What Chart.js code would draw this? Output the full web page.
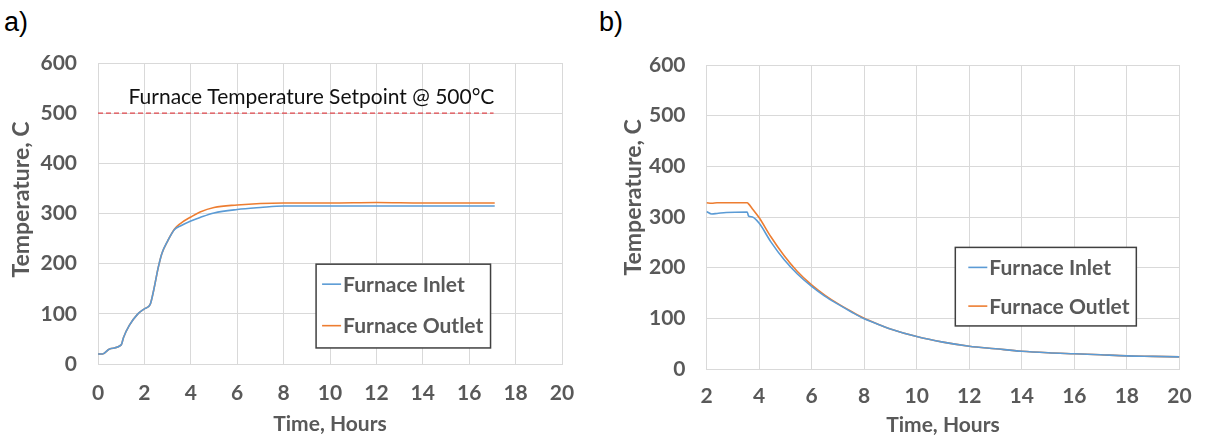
<!DOCTYPE html>
<html>
<head>
<meta charset="utf-8">
<script src="https://cdn.jsdelivr.net/npm/chart.js@4.4.1/dist/chart.umd.min.js"></script>
<style>
  body { margin: 0; background: #fff; }
  #wrap { position: relative; width: 1206px; height: 438px; }
  canvas { position: absolute; top: 0; }
  .tag { position: absolute; top: 9px; font: 27px "Liberation Sans", Arial, sans-serif; color: #000; line-height: 27px; }
</style>
</head>
<body>
<div id="wrap">
  <div class="tag" style="left:4px">a)</div>
  <div class="tag" style="left:599px">b)</div>
  <canvas id="chartA" width="600" height="438" style="left:0"></canvas>
  <canvas id="chartB" width="606" height="438" style="left:600px"></canvas>
</div>
<script>
  // ---- data ----
  // a) heat-up
  const heatTime   = [0, 0.2, 0.5, 1.0, 1.1, 1.35, 1.7, 2.0, 2.25, 2.4, 2.6, 2.75, 3.0, 3.3, 3.55, 4.0, 4.4, 5.0, 6.0, 7.0, 8.0, 10, 12, 14, 16, 17.1];
  const heatInlet  = [20, 20, 30, 38, 53, 77, 99, 110, 119, 147, 193, 220, 245, 268, 275, 285, 292, 301, 308, 312, 315, 315, 315, 315, 315, 315];
  const heatOutlet = [20, 20, 30, 38, 53, 77, 99, 110, 119, 147, 193, 220, 245, 269, 280, 293, 303, 312, 317, 320, 321, 321, 322, 321, 321, 321];
  const setpointTime  = [0, 17.05];
  const setpointValue = [500, 500];

  // b) cool-down
  const coolTime   = [2.0, 2.2, 2.4, 2.75, 3.55, 3.6, 3.75, 4.0, 4.45, 4.95, 5.45, 6.0, 6.5, 7.0, 7.5, 8.0, 8.5, 9, 10, 11, 12, 13, 14, 15, 16, 17, 18, 19, 20];
  const coolInlet  = [311, 306, 307, 309, 310, 302, 300, 288, 251, 216, 188, 163, 144, 128, 113, 99, 89, 79, 64, 53, 45, 40, 35, 32, 30, 28, 26, 25, 24];
  const coolOutlet = [328, 327, 328, 328, 328, 326, 316, 299, 261, 224, 193, 166, 146, 129, 114, 100, 89, 79, 64, 53, 45, 40, 35, 32, 30, 28, 26, 25, 24];

  const seriesNames = ['Furnace Inlet', 'Furnace Outlet'];
  const setpointLabel = 'Furnace Temperature Setpoint @ 500\u00B0C';

  const GRAY = '#595959';
  const GRID = '#d9d9d9';
  const FONT = 'Lato, "Open Sans", sans-serif';
  const BLUE = '#5b9bd5';
  const ORANGE = '#ed7d31';

  const toPoints = (xs, ys) => xs.map((x, i) => ({ x, y: ys[i] }));

  function lineSet(label, xs, ys, color) {
    return {
      label,
      data: toPoints(xs, ys),
      borderColor: color,
      borderWidth: 1.6,
      pointRadius: 0,
      cubicInterpolationMode: 'monotone',
      fill: false
    };
  }

  // boxed legend drawn inside the plot, like the excel one
  const boxLegend = {
    id: 'boxLegend',
    afterDatasetsDraw(chart, args, opts) {
      const { ctx, scales: { x, y } } = chart;
      const left = x.getPixelForValue(opts.x0), right = x.getPixelForValue(opts.x1);
      const top = y.getPixelForValue(opts.y0), bottom = y.getPixelForValue(opts.y1);
      ctx.save();
      ctx.fillStyle = '#fff';
      ctx.fillRect(left, top, right - left, bottom - top);
      ctx.strokeStyle = '#404040';
      ctx.lineWidth = 1.5;
      ctx.strokeRect(left, top, right - left, bottom - top);
      ctx.font = 'bold 21px ' + FONT;
      ctx.textBaseline = 'middle';
      ctx.fillStyle = GRAY;
      let row = top + opts.firstRow;
      chart.data.datasets.forEach(ds => {
        if (ds.noLegend) return;
        const lx = left + opts.padLeft;
        ctx.strokeStyle = ds.borderColor;
        ctx.lineWidth = 1.6;
        ctx.beginPath();
        ctx.moveTo(lx, row);
        ctx.lineTo(lx + 19, row);
        ctx.stroke();
        ctx.fillText(ds.label, lx + 21, row + 1);
        row += opts.rowGap;
      });
      ctx.restore();
    }
  };

  // label above the setpoint line
  const setpointText = {
    id: 'setpointText',
    afterDatasetsDraw(chart, args, opts) {
      if (!opts.text) return;
      const { ctx, scales: { x, y } } = chart;
      ctx.save();
      ctx.font = '21px ' + FONT;
      ctx.fillStyle = '#111';
      ctx.textAlign = 'center';
      ctx.textBaseline = 'middle';
      ctx.fillText(opts.text, x.getPixelForValue(opts.x), y.getPixelForValue(opts.y));
      ctx.restore();
    }
  };

  function makeOptions(xMin, pad, yWidth, xHeight, tickPad, titlePad, yTitle, legendBox, note) {
    const tickFont = { family: FONT, size: 21, weight: 'bold' };
    const yTitleFont = { family: FONT, size: 23, weight: 'bold' };
    return {
      responsive: false,
      animation: false,
      layout: { padding: pad },
      plugins: {
        legend: { display: false },
        tooltip: { enabled: false },
        boxLegend: legendBox,
        setpointText: note || {}
      },
      scales: {
        x: {
          type: 'linear', min: xMin, max: 20,
          ticks: { stepSize: 2, color: GRAY, font: tickFont, padding: tickPad, maxRotation: 0, autoSkip: false },
          grid: { color: GRID, drawTicks: false },
          border: { color: GRID },
          title: { display: true, text: 'Time, Hours', color: GRAY, font: tickFont, padding: 0 },
          afterFit: s => { s.height = xHeight; }
        },
        y: {
          min: 0, max: 600,
          ticks: { stepSize: 100, color: GRAY, font: tickFont, padding: 21 },
          grid: { color: GRID, drawTicks: false },
          border: { color: GRID },
          title: { display: true, text: yTitle, color: GRAY, font: yTitleFont, padding: { top: titlePad, bottom: 0 } },
          afterFit: s => { s.width = yWidth; }
        }
      }
    };
  }

  const setpointSet = lineSet('Setpoint', setpointTime, setpointValue, '#e0474c');
  setpointSet.borderDash = [5, 3];
  setpointSet.borderWidth = 1.3;
  setpointSet.noLegend = true;

  new Chart(document.getElementById('chartA'), {
    type: 'line',
    data: {
      datasets: [
        lineSet(seriesNames[0], heatTime, heatInlet, BLUE),
        lineSet(seriesNames[1], heatTime, heatOutlet, ORANGE),
        setpointSet
      ]
    },
    options: makeOptions(0, { top: 63, right: 38, bottom: 1, left: 0 }, 98, 73, 16.7, 8,
      '     Temperature, C',
      { x0: 9.4, x1: 16.92, y0: 199, y1: 32, padLeft: 6, firstRow: 20, rowGap: 41.5 },
      { text: setpointLabel, x: 9.2, y: 532 }),
    plugins: [boxLegend, setpointText]
  });

  new Chart(document.getElementById('chartB'), {
    type: 'line',
    data: {
      datasets: [
        lineSet(seriesNames[0], coolTime, coolInlet, BLUE),
        lineSet(seriesNames[1], coolTime, coolOutlet, ORANGE)
      ]
    },
    options: makeOptions(2, { top: 65, right: 15, bottom: 0, left: 0 }, 106.5, 69, 14.4, 19.5,
      '       Temperature, C',
      { x0: 11.47, x1: 18.36, y0: 240, y1: 85, padLeft: 13, firstRow: 20, rowGap: 38.7 }),
    plugins: [boxLegend, setpointText]
  });
</script>
</body>
</html>
